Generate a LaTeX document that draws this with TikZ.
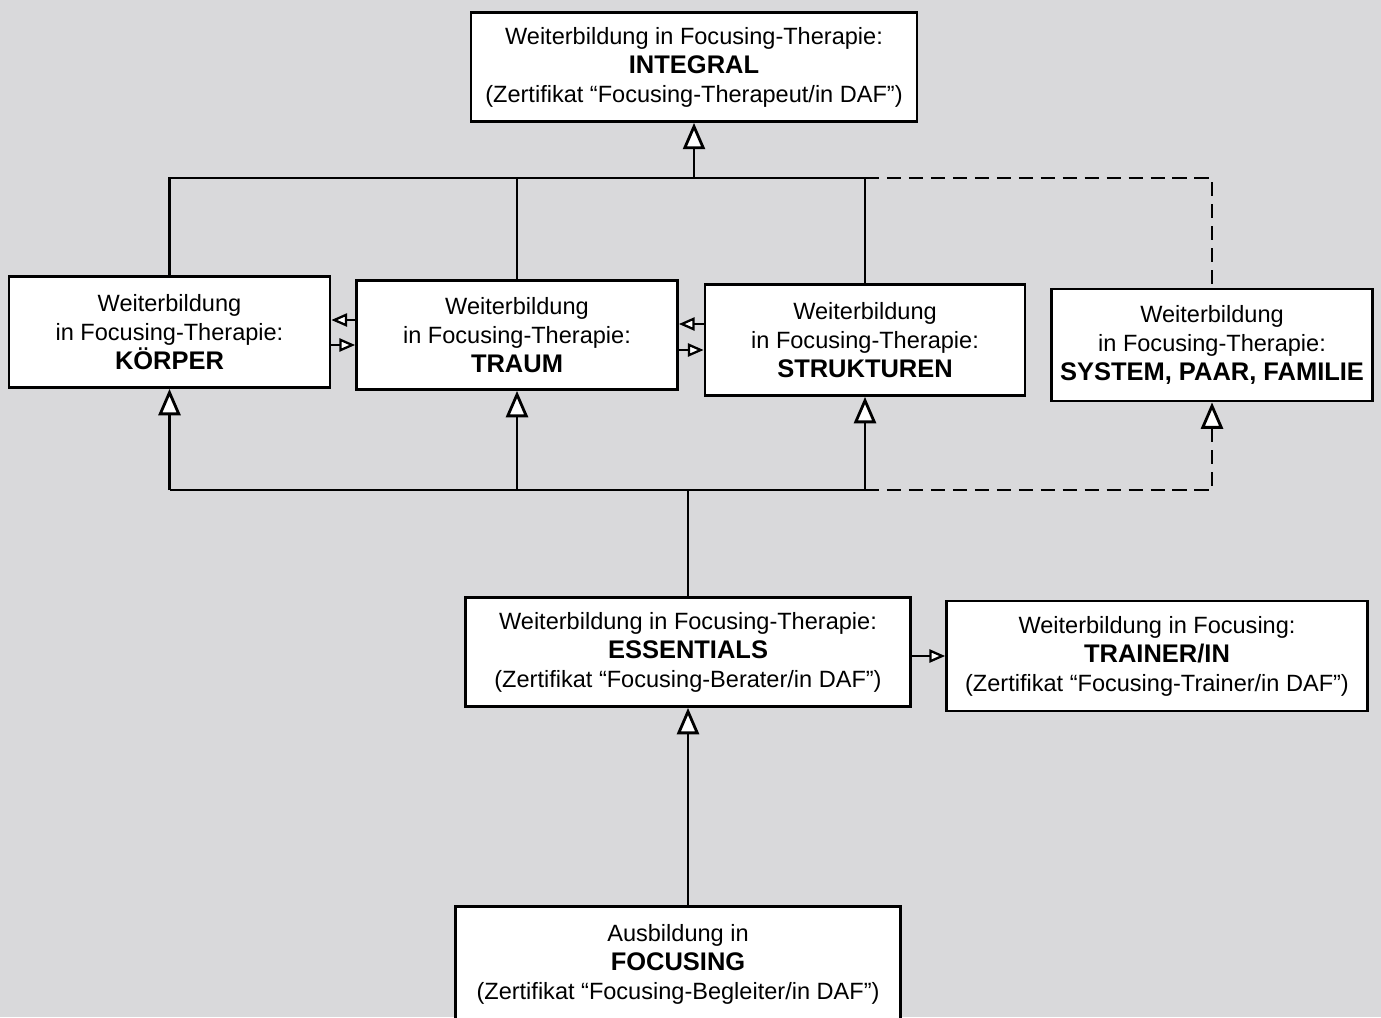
\documentclass[tikz,border=0pt]{standalone}
\usepackage{fontspec}
\setmainfont{Liberation Sans}
\usetikzlibrary{arrows.meta}
\definecolor{bg}{HTML}{D9D9DB}
\newcommand\bt[1]{{\fontsize{14.5}{16.5}\selectfont\bfseries #1}}
\tikzset{
  box/.style={draw=black, line width=1.6pt, fill=white, align=center, inner sep=0pt,
    font=\fontsize{13.4}{16.5}\selectfont},
  conn/.style={line width=1.5pt, black},
  bigtip/.style={-{Triangle[open,fill=white,length=15pt,width=12.5pt,line width=1.6pt]}},
  smalltip/.style={-{Triangle[open,fill=white,length=9pt,width=7.5pt,line width=1.3pt]}},
  dashline/.style={dash pattern=on 8pt off 4.5pt}
}
\begin{document}
\begin{tikzpicture}[x=0.02cm,y=-0.02cm]
\fill[bg] (0,0) rectangle (1381,1017);
\useasboundingbox (0,0) rectangle (1381,1017);

\node[box, minimum width=8.92cm, minimum height=2.18cm] (integral) at (694,67)
  {Weiterbildung in Focusing-Therapie:\\\bt{INTEGRAL}\\(Zertifikat “Focusing-Therapeut/in DAF”)};
\node[box, minimum width=6.42cm, minimum height=2.22cm] (korper) at (169.5,332)
  {Weiterbildung\\in Focusing-Therapie:\\\bt{KÖRPER}};
\node[box, minimum width=6.42cm, minimum height=2.18cm] (traum) at (517,335)
  {Weiterbildung\\in Focusing-Therapie:\\\bt{TRAUM}};
\node[box, minimum width=6.4cm, minimum height=2.22cm] (struk) at (865,340)
  {Weiterbildung\\in Focusing-Therapie:\\\bt{STRUKTUREN}};
\node[box, minimum width=6.42cm, minimum height=2.24cm] (system) at (1212,345)
  {Weiterbildung\\in Focusing-Therapie:\\\bt{SYSTEM, PAAR, FAMILIE}};
\node[box, minimum width=8.9cm, minimum height=2.18cm] (ess) at (688,652)
  {Weiterbildung in Focusing-Therapie:\\\bt{ESSENTIALS}\\(Zertifikat “Focusing-Berater/in DAF”)};
\node[box, minimum width=8.42cm, minimum height=2.2cm] (trainer) at (1157,656)
  {Weiterbildung in Focusing:\\\bt{TRAINER/IN}\\(Zertifikat “Focusing-Trainer/in DAF”)};
\node[box, minimum width=8.9cm, minimum height=2.3cm] (foc) at (678,964)
  {Ausbildung in\\\bt{FOCUSING}\\(Zertifikat “Focusing-Begleiter/in DAF”)};

\coordinate (tb) at (694,178);
\coordinate (bb) at (688,490);

% top bus
\draw[conn] (korper.north) |- (struk.north |- tb) -- (struk.north);
\draw[conn] (traum.north) -- (traum.north |- tb);
\draw[conn, bigtip] (tb) -- (integral.south);
\draw[conn, dashline] (struk.north |- tb) -| (system.north);

% bottom bus
\draw[conn] (korper.south |- bb) -- (struk.south |- bb);
\draw[conn, bigtip] (korper.south |- bb) -- (korper.south);
\draw[conn, bigtip] (traum.south |- bb) -- (traum.south);
\draw[conn, bigtip] (struk.south |- bb) -- (struk.south);
\draw[conn, dashline, bigtip] (struk.south |- bb) -| (system.south);
\draw[conn] (bb) -- (ess.north);

% focusing to essentials
\draw[conn, bigtip] (ess.south |- foc.north) -- (ess.south);
% essentials to trainer
\draw[conn, smalltip] (ess.east |- 0,656) -- (trainer.west |- 0,656);

% side arrows
\draw[conn, smalltip] (traum.west |- 0,320) -- (korper.east |- 0,320);
\draw[conn, smalltip] (korper.east |- 0,345) -- (traum.west |- 0,345);
\draw[conn, smalltip] (struk.west |- 0,324) -- (traum.east |- 0,324);
\draw[conn, smalltip] (traum.east |- 0,350) -- (struk.west |- 0,350);
\end{tikzpicture}
\end{document}
